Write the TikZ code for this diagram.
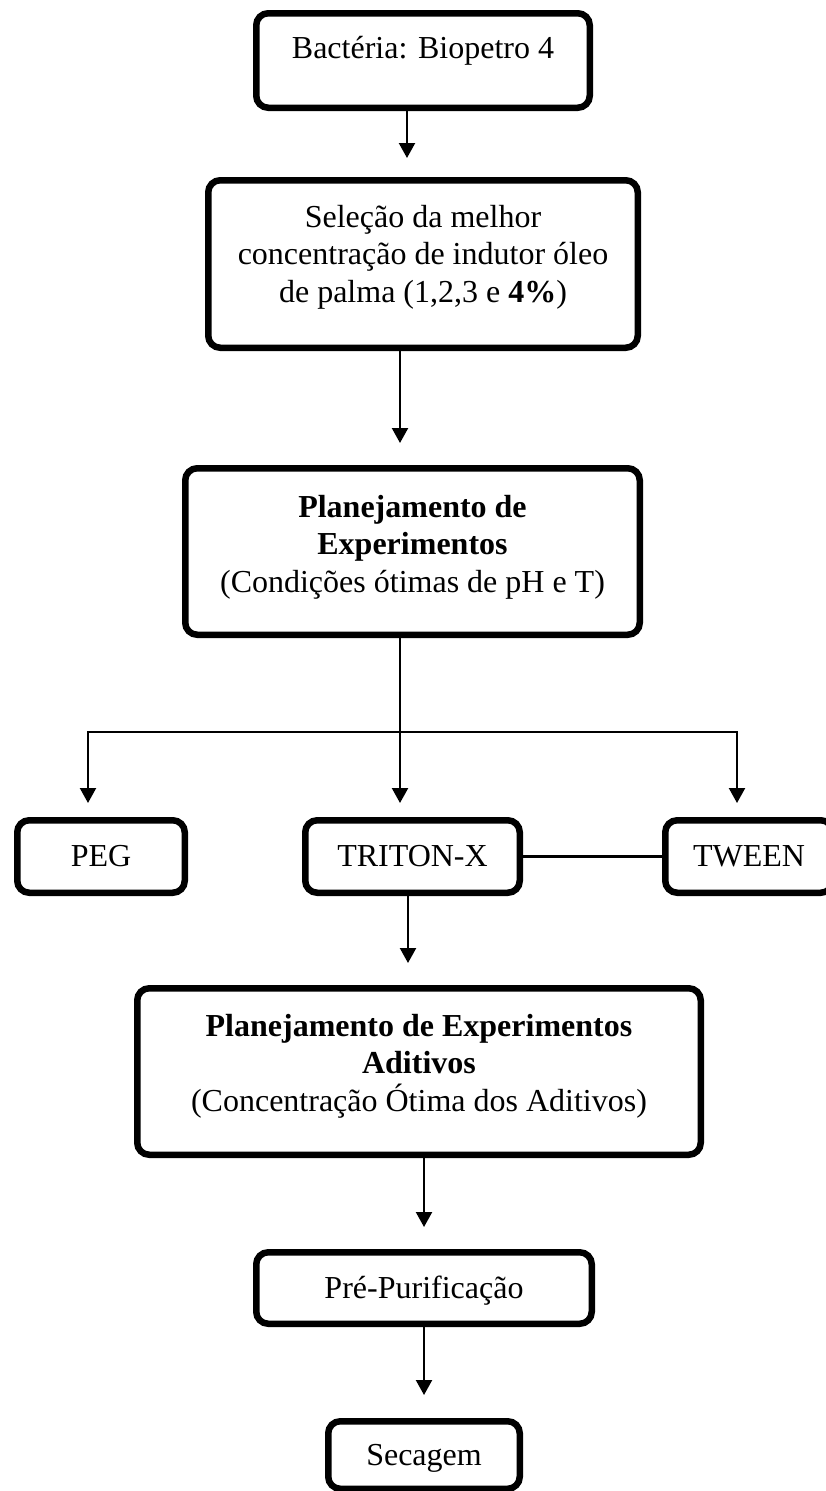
\documentclass[tikz,border=0pt]{standalone}
\usepackage{fontspec}
\setmainfont{Liberation Serif}
\usetikzlibrary{arrows.meta}
\newcommand{\bxtext}[4]{\parbox[c][#2][t]{#1}{\centering\fontsize{32}{37.5}\selectfont\rule{0pt}{#3}#4\par}}
\begin{document}
\begin{tikzpicture}[x=1pt,y=-1pt,
  fbox/.style={draw=black, line width=6.5pt, rounded corners=12pt, inner sep=0pt, fill=white},
  arr/.style={draw=black, line width=2.2pt, -{Triangle[width=16pt,length=15pt]}},
  conn/.style={draw=black, line width=2.2pt}]
\useasboundingbox (0,0) rectangle (826,1491);
\node[fbox] (b1) at (423,60.5) {\bxtext{333.5pt}{94.5pt}{44.75pt}{Bactéria: Biopetro 4}};
\node[fbox] (b2) at (423,264) {\bxtext{429.5pt}{167.5pt}{46.75pt}{Seleção da melhor\\ concentração de indutor óleo\\ de palma (1,2,3 e \textbf{4\%})}};
\node[fbox] (b3) at (412.5,551.5) {\bxtext{454.5pt}{166.5pt}{48.75pt}{\textbf{Planejamento de}\\ \textbf{Experimentos}\\ (Condições ótimas de pH e T)}};
\node[fbox] (peg) at (101,856.5) {\bxtext{167.5pt}{72.5pt}{45.75pt}{PEG}};
\node[fbox] (tri) at (412.5,856.5) {\bxtext{214.5pt}{72.5pt}{45.75pt}{TRITON-X}};
\node[fbox] (twe) at (749,856.5) {\bxtext{167.5pt}{72.5pt}{45.75pt}{TWEEN}};
\node[fbox] (b5) at (419,1071.5) {\bxtext{563.5pt}{166.5pt}{47.75pt}{\textbf{Planejamento de Experimentos}\\ \textbf{Aditivos}\\ (Concentração Ótima dos Aditivos)}};
\node[fbox] (pre) at (424,1288) {\bxtext{335.5pt}{71.5pt}{45.75pt}{Pré-Purificação}};
\node[fbox] (sec) at (424,1455) {\bxtext{191.5pt}{67.5pt}{43.75pt}{Secagem}};
% connectors
\draw[arr, shorten >=19pt] ([xshift=-16pt]b1.south) -- ([xshift=-16pt]b1.south |- b2.north);
\draw[arr, shorten >=22pt] ([xshift=-23pt]b2.south) -- ([xshift=-23pt]b2.south |- b3.north);
\coordinate (jn) at ([xshift=-12.5pt,yshift=-94pt]b3.south);
\coordinate (pegtop) at ([xshift=-13pt]peg.north);
\coordinate (twetop) at ([xshift=-12pt]twe.north);
\draw[arr, shorten >=14pt] ([xshift=-12.5pt]b3.south) -- ([xshift=-12.5pt]tri.north);
\draw[arr, shorten >=14pt] (jn) -| (pegtop);
\draw[arr, shorten >=14pt] (jn) -| (twetop);
\draw[conn] (tri.east) -- (twe.west);
\draw[arr, shorten >=22pt] ([xshift=-4.5pt]tri.south) -- ([xshift=-4.5pt]tri.south |- b5.north);
\draw[arr, shorten >=22pt] ([xshift=5pt]b5.south) -- (pre.north);
\draw[arr, shorten >=23pt] (pre.south) -- (sec.north);
\end{tikzpicture}
\end{document}
